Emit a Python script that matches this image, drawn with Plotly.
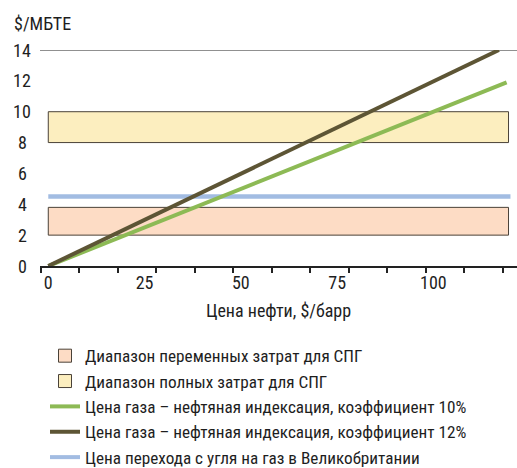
import plotly.graph_objects as go

# ---- data ----
oil_x_10 = [0, 119]
gas_10 = [0, 11.9]
oil_x_12 = [0, 117]
gas_12 = [0, 14.0]
switch_x = [0, 120]
switch_y = [4.5, 4.5]
var_cost_x = [0, 119.5]
var_cost_range = [2.0, 3.8]
full_cost_x = [0, 119.5]
full_cost_range = [8.0, 10.0]
x_tickvals = [0, 25, 50, 75, 100]
y_tickvals = [0, 2, 4, 6, 8, 10, 12, 14]

names = [
    "Диапазон переменных затрат для СПГ",
    "Диапазон полных затрат для СПГ",
    "Цена газа – нефтяная индексация, коэффициент 10%",
    "Цена газа – нефтяная индексация, коэффициент 12%",
    "Цена перехода с угля на газ в Великобритании",
]

FONT = "Roboto Condensed, DejaVu Sans Condensed, sans-serif"
C_PINK = "#FDDCC5"
C_YEL = "#FCEEBF"
C_EDGE = "#4a4238"
C_GREEN = "#8DBA55"
C_BROWN = "#5D5535"
C_BLUE = "#A2BCE2"
C_TXT = "#1e1e1e"

fig = go.Figure()

def rect_trace(xr, yr, color, name):
    return go.Scatter(
        x=[xr[0], xr[1], xr[1], xr[0], xr[0]],
        y=[yr[0], yr[0], yr[1], yr[1], yr[0]],
        mode="lines", fill="toself", fillcolor=color,
        line=dict(color=C_EDGE, width=1), showlegend=False, hoverinfo="skip", name=name,
    )

fig.add_trace(rect_trace(var_cost_x, var_cost_range, C_PINK, names[0]))
fig.add_trace(rect_trace(full_cost_x, full_cost_range, C_YEL, names[1]))

fig.add_trace(go.Scatter(x=switch_x, y=switch_y, mode="lines",
                         line=dict(color=C_BLUE, width=4.5), showlegend=False, name=names[4]))
fig.add_trace(go.Scatter(x=oil_x_10, y=gas_10, mode="lines",
                         line=dict(color=C_GREEN, width=4), showlegend=False, name=names[2]))
fig.add_trace(go.Scatter(x=oil_x_12, y=gas_12, mode="lines",
                         line=dict(color=C_BROWN, width=4), showlegend=False, name=names[3]))

# legend proxies
fig.add_trace(go.Scatter(x=[None], y=[None], mode="markers", name=names[0],
                         marker=dict(symbol="square", size=13, color=C_PINK, line=dict(color=C_EDGE, width=1))))
fig.add_trace(go.Scatter(x=[None], y=[None], mode="markers", name=names[1],
                         marker=dict(symbol="square", size=13, color=C_YEL, line=dict(color=C_EDGE, width=1))))
fig.add_trace(go.Scatter(x=[None], y=[None], mode="lines", name=names[2],
                         line=dict(color=C_GREEN, width=4)))
fig.add_trace(go.Scatter(x=[None], y=[None], mode="lines", name=names[3],
                         line=dict(color=C_BROWN, width=4)))
fig.add_trace(go.Scatter(x=[None], y=[None], mode="lines", name=names[4],
                         line=dict(color=C_BLUE, width=4)))

annotations = [
    dict(text="$/МБТЕ", xref="paper", yref="paper", x=(12 - 40) / 477, y=(266 - 24) / 216,
         xanchor="left", yanchor="middle", showarrow=False, font=dict(family=FONT, size=18, color=C_TXT)),
]
for v in y_tickvals:
    annotations.append(dict(text=str(v), xref="paper", yref="y", x=(22 - 40) / 477, y=v,
                            xanchor="center", yanchor="middle", showarrow=False,
                            font=dict(family=FONT, size=18, color=C_TXT)))

fig.update_layout(
    width=517, height=468,
    margin=dict(l=40, r=0, t=50, b=202, autoexpand=False),
    paper_bgcolor="white", plot_bgcolor="white",
    font=dict(family=FONT, size=18, color=C_TXT),
    showlegend=True,
    legend=dict(xref="container", yref="container", x=45 / 517, y=1 - 338 / 468,
                xanchor="left", yanchor="top", font=dict(family=FONT, size=17.2, color=C_TXT),
                bgcolor="rgba(0,0,0,0)", tracegroupgap=0, maxheight=160),
    xaxis=dict(range=[-2.15, 121.7], tickvals=x_tickvals, ticks="", showgrid=False, zeroline=False,
               showline=True, linecolor="#222", linewidth=1.5,
               minor=dict(ticks="outside", tick0=-2, dtick=10, ticklen=5, tickcolor="#222", tickwidth=1.5, showgrid=False),
               tickfont=dict(family=FONT, size=18, color=C_TXT),
               title=dict(text="Цена нефти, $/барр", font=dict(family=FONT, size=18, color=C_TXT), standoff=12)),
    yaxis=dict(range=[0, 14], showticklabels=False, ticks="", showgrid=False, zeroline=False,
               showline=False),
    annotations=annotations,
    shapes=[dict(type="line", xref="paper", yref="y", x0=0, x1=1, y0=14, y1=14,
                 line=dict(color="#222", width=1.2), layer="below")],
)

fig.write_html("out.html", config={"displayModeBar": False},
               post_script="document.body.style.margin='0';")
